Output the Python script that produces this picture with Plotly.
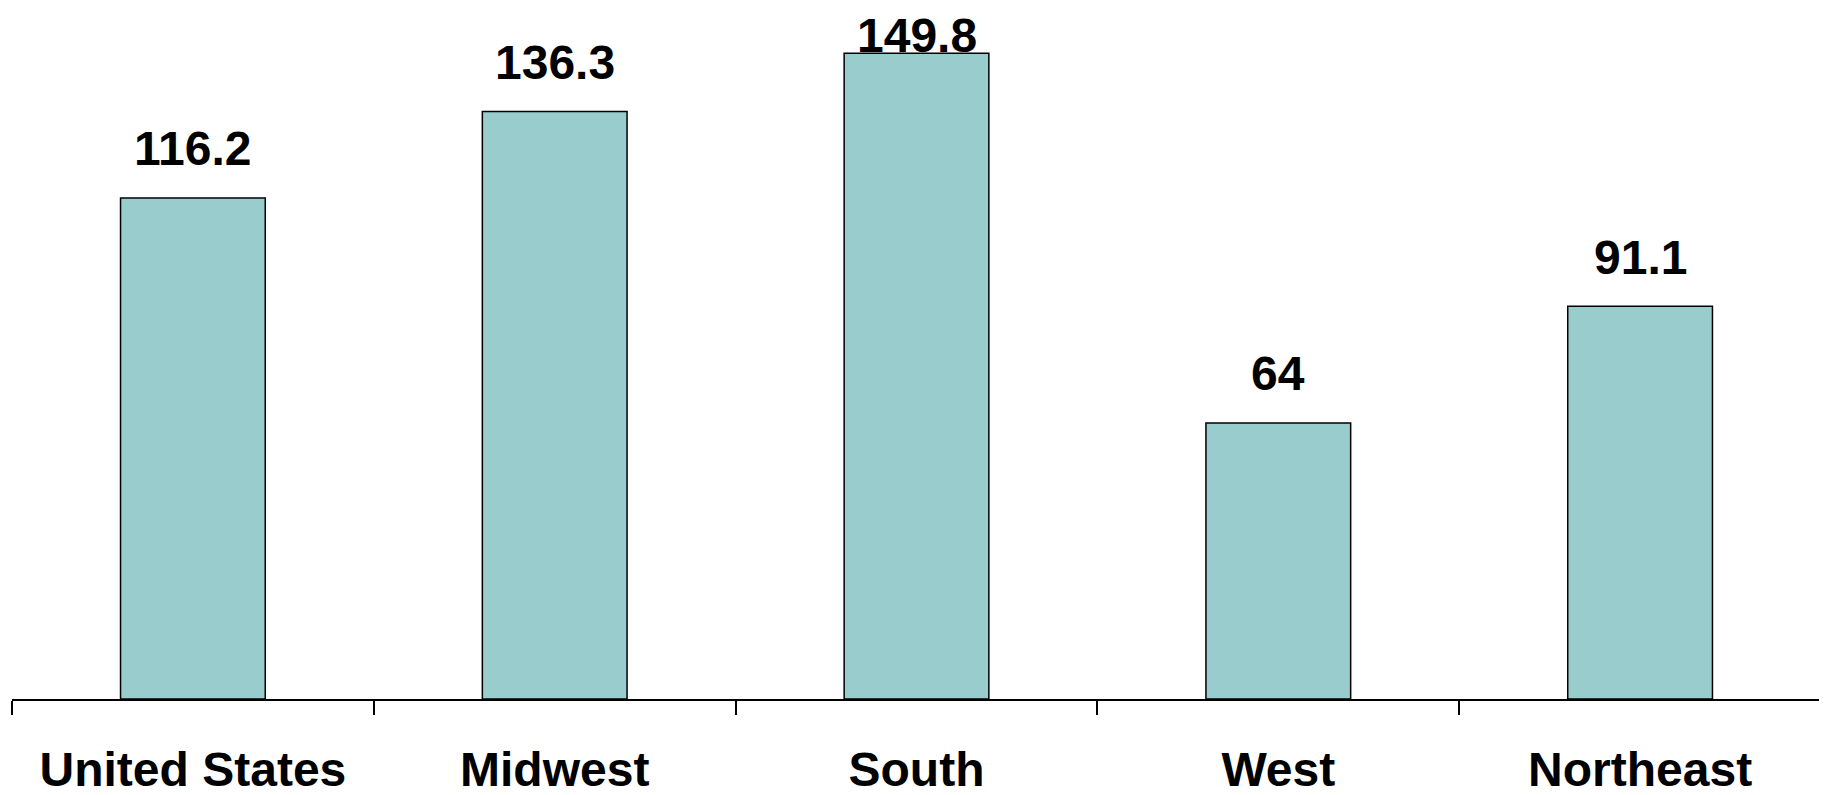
import plotly.graph_objects as go

categories = ["United States", "Midwest", "South", "West", "Northeast"]
values = [116.2, 136.3, 149.8, 64, 91.1]
value_labels = ["116.2", "136.3", "149.8", "64", "91.1"]

Y_MAX = 160.3
LABEL_OFFSET = 11.4
LABEL_CAP = 153.9

fig = go.Figure()
fig.add_trace(go.Bar(
    x=categories, y=values, width=0.4,
    marker=dict(color="#99CCCC", line=dict(color="black", width=1.5)),
    hoverinfo="skip",
))

for c, v, t in zip(categories, values, value_labels):
    fig.add_annotation(
        x=c, y=min(v + LABEL_OFFSET, LABEL_CAP), xref="x", yref="y",
        text="<b>%s</b>" % t, showarrow=False, yanchor="middle",
        font=dict(family="Liberation Sans, Arial, sans-serif", size=48, color="black"),
    )

fig.update_layout(
    width=1827, height=795,
    margin=dict(l=4, r=14, t=0, b=104, autoexpand=False),
    paper_bgcolor="white", plot_bgcolor="white",
    showlegend=False, bargap=0.6,
)
fig.update_xaxes(
    type="category", range=[-0.5, 4.5], automargin=False,
    showline=True, linecolor="black", linewidth=2,
    ticks="outside", tickson="boundaries", ticklen=14, tickwidth=1.5, tickcolor="black",
    ticklabelstandoff=27,
    tickfont=dict(family="Liberation Sans, Arial, sans-serif", size=48, color="black", weight="bold"),
    showgrid=False, zeroline=False,
)
fig.update_yaxes(range=[0, Y_MAX], visible=False, showgrid=False, zeroline=False, automargin=False)

fig.write_html("out.html")
